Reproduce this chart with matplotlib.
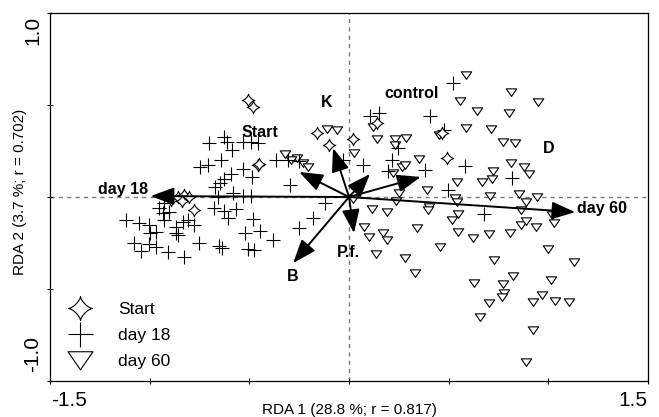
import numpy as np
import matplotlib
matplotlib.use('Agg')
import matplotlib.pyplot as plt
from matplotlib.path import Path
from matplotlib.lines import Line2D

plt.rcParams['font.family'] = ['Liberation Sans', 'DejaVu Sans']

# sample scores - Start
start_x = [-0.505, -0.48, -0.455, -0.45, -0.16, -0.10, 0.02, 0.14, 0.465, 0.49,
           -0.895, -0.86, -0.83, -0.805, -0.78, -0.84]
start_y = [0.527, 0.49, 0.174, 0.18, 0.35, 0.28, 0.315, 0.40, 0.35, 0.21,
           -0.015, 0.0, 0.01, 0.0, -0.07, -0.02]

# sample scores - day 18
d18_x = [-0.70, -0.625, -0.61, -0.585, -0.53, -0.49, -0.455,
         -0.75, -0.705, -0.64, -0.59, -0.53, -0.485,
         -0.625, -0.67, -0.645,
         -0.655, -0.58, -0.53, -0.49,
         -0.675, -0.625, -0.565, -0.605, -0.48, -0.445, -0.52, -0.38, -0.505, -0.475,
         -0.65, -0.635, -0.755, -0.83,
         -0.365, -0.305, -0.25, -0.295, -0.12, -0.18, -0.25,
         -1.12, -1.055, -1.005, -1.0, -0.97, -0.935, -0.93, -0.905, -0.87, -0.835,
         -0.81, -0.78, -0.86, -1.08, -1.045, -1.005, -0.97, -0.91, -0.93, -0.955, -0.87,
         -0.03, 0.07, 0.105, 0.15, 0.245, 0.215, 0.195, 0.405, 0.475, 0.38, 0.52,
         0.58, 0.82, 0.495, 0.675]
d18_y = [0.293, 0.326, 0.30, 0.255, 0.30, 0.30, 0.293,
         0.163, 0.174, 0.20, 0.125, 0.152, 0.109,
         0.098, 0.054, 0.076,
         0.0, 0.022, 0.005, 0.005,
         -0.06, -0.076, -0.065, -0.114, -0.12, -0.185, -0.196, -0.234, -0.283, -0.288,
         -0.266, -0.277, -0.25, -0.326,
         0.20, 0.20, 0.196, 0.065, -0.033, -0.114, -0.168,
         -0.125, -0.141, -0.152, -0.196, -0.19, -0.087, -0.125, -0.082, -0.163, -0.136,
         -0.125, -0.152, -0.207, -0.25, -0.293, -0.255, -0.272, -0.299, -0.033, -0.06, -0.196,
         0.20, 0.174, 0.44, 0.457, 0.266, 0.20, 0.141, 0.44, 0.364, 0.147, 0.62,
         0.168, 0.103, 0.038, -0.092]

# sample scores - day 60
d60_x = [0.585, 0.815, 0.95, 0.555, 0.64, 0.805, 0.12, 0.585, 0.71, 0.45,
         0.14, 0.23, 0.285, 0.23, 0.775, 0.835, 0.025, 0.35, 0.265, 0.28,
         0.22, 0.72, 0.715, 0.665, 0.54, 0.815, 0.88, 0.905, 0.25, 0.39,
         0.53, 0.54, 0.705, 0.855, 0.945, 0.89, 0.865, 0.02, 0.235, 0.115,
         0.19, 0.40, 0.395, 0.545, 0.515, 0.34, 0.545, 0.62, 0.70, 0.81,
         0.865, 0.89, 0.94, 1.02, 1.03, 0.075, 0.10, 0.17, 0.19, 0.455,
         1.0, 0.135, 0.28, 0.33, 0.725, 1.13, 0.625, 0.775, 0.78, 0.77,
         0.825, 1.015, 0.97, 0.70, 0.925, 1.035, 1.105, 0.655, 0.925, 0.89,
         -0.11, -0.06, -0.32, -0.26, -0.23, -0.205, -0.29]
d60_y = [0.663, 0.571, 0.516, 0.522, 0.467, 0.457, 0.38, 0.375, 0.37, 0.337,
         0.315, 0.315, 0.32, 0.283, 0.30, 0.293, 0.239, 0.207, 0.163, 0.174,
         0.13, 0.141, 0.098, 0.082, 0.082, 0.185, 0.163, 0.125, 0.022, 0.038,
         -0.005, -0.027, 0.005, 0.016, 0.0, -0.027, -0.071, -0.011, -0.022, -0.065,
         -0.082, -0.054, -0.071, -0.092, -0.125, -0.168, -0.19, -0.223, -0.201, -0.196,
         -0.152, -0.13, -0.163, -0.098, -0.141, -0.163, -0.217, -0.196, -0.234, -0.272,
         -0.283, -0.31, -0.332, -0.413, -0.342, -0.353, -0.467, -0.473, -0.522, -0.543,
         -0.429, -0.451, -0.533, -0.576, -0.571, -0.565, -0.571, -0.652, -0.723, -0.897,
         0.37, 0.364, 0.234, 0.212, 0.185, 0.163, 0.20]

# explanatory variables (arrow tips)
var_names = ['day 18', 'day 60', 'B', 'P.f.', 'K', 'Start', 'control', 'D']
var_x = [-0.995, 1.135, -0.28, 0.025, -0.08, -0.25, 0.105, 0.36]
var_y = [0.005, -0.082, -0.359, -0.196, 0.266, 0.136, 0.125, 0.109]
lab_x = [-1.01, 1.145, -0.28, -0.005, -0.11, -0.445, 0.315, 1.0]
lab_y = [0.04, -0.06, -0.43, -0.30, 0.516, 0.348, 0.56, 0.266]
lab_ha = ['right', 'left', 'center', 'center', 'center', 'center', 'center', 'center']

# 4-point star marker
t = np.linspace(0, 2 * np.pi, 81)
c, s = np.cos(t), np.sin(t)
star = Path(np.column_stack([np.sign(c) * np.abs(c) ** 2.8,
                             np.sign(s) * np.abs(s) ** 2.8]), closed=True)
# flat, downward triangle
tri = Path([(-1, 0.7), (1, 0.7), (0, -0.75), (-1, 0.7)], closed=True)

fig = plt.figure(figsize=(6.59, 4.17), dpi=100)
ax = fig.add_axes([50 / 659, 36 / 417, 598 / 659, 368 / 417])
ax.set_xlim(-1.5, 1.5)
ax.set_ylim(-1.0, 1.0)

ax.axhline(0, color='#777777', lw=1, ls=(0, (3, 3)), zorder=1)
ax.axvline(0, color='#777777', lw=1, ls=(0, (3, 3)), zorder=1)

ax.plot(d60_x, d60_y, ls='none', marker=tri, ms=7.5, mfc='white', mec='black', mew=0.8, zorder=2)
ax.plot(d18_x, d18_y, ls='none', marker='+', ms=9.5, mec='black', mew=0.8, zorder=3)
ax.plot(start_x, start_y, ls='none', marker=star, ms=9, mfc='white', mec='black', mew=0.8, zorder=3)

for i in range(len(var_names)):
    ax.annotate('', xy=(var_x[i], var_y[i]), xytext=(0, 0),
                arrowprops=dict(arrowstyle='-|>,head_length=0.8,head_width=0.3',
                                mutation_scale=18, lw=1.4, color='black',
                                shrinkA=0, shrinkB=0), zorder=5)
    ax.text(lab_x[i], lab_y[i], var_names[i], ha=lab_ha[i], va='center',
            fontsize=11.5, fontweight='bold', zorder=6)

ax.set_xticks([-1.5, -1.0, -0.5, 0, 0.5, 1.0, 1.5])
ax.set_yticks([-1.0, -0.5, 0, 0.5, 1.0])
ax.set_xticklabels([])
ax.set_yticklabels([])
ax.tick_params(direction='inout', length=5, width=0.8)
for sp in ax.spines.values():
    sp.set_linewidth(0.9)

fig.text(51 / 659, 1 - 401 / 417, '-1.5', ha='left', va='center', fontsize=15)
fig.text(647 / 659, 1 - 401 / 417, '1.5', ha='right', va='center', fontsize=15)
fig.text(33 / 659, 1 - 16 / 417, '1.0', ha='center', va='top', rotation=90, fontsize=15)
fig.text(33 / 659, 1 - 372 / 417, '-1.0', ha='center', va='bottom', rotation=90, fontsize=15)
fig.text(349 / 659, 1 - 410 / 417, 'RDA 1 (28.8 %; r = 0.817)', ha='center', va='center', fontsize=11)
fig.text(20 / 659, 1 - 192 / 417, 'RDA 2 (3.7 %; r = 0.702)', ha='center', va='center',
         rotation=90, fontsize=11)

handles = [Line2D([], [], ls='none', marker=star, ms=17, mfc='white', mec='black', mew=0.8),
           Line2D([], [], ls='none', marker='+', ms=18, mec='black', mew=0.8),
           Line2D([], [], ls='none', marker=tri, ms=18, mfc='white', mec='black', mew=0.8)]
ax.legend(handles, ['Start', 'day 18', 'day 60'], loc='lower left', frameon=False,
          fontsize=12.5, handlelength=2.0, handletextpad=1.2, labelspacing=0.62,
          borderaxespad=0.3, bbox_to_anchor=(0.0, 0.0))

fig.savefig('out.png', dpi=100)
